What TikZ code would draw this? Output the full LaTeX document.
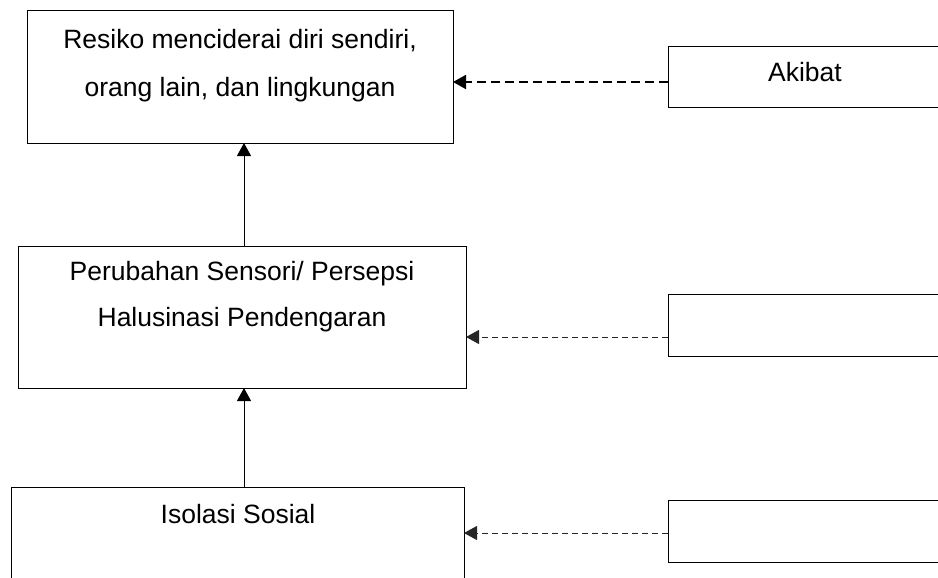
\documentclass[tikz,border=0pt]{standalone}
\usepackage{fontspec}
\setmainfont{Liberation Sans}
\usetikzlibrary{arrows.meta}
\begin{document}
\begin{tikzpicture}[x=1pt,y=-1pt,
  box/.style={draw, line width=1pt, inner sep=0pt, outer sep=0pt},
  lbl/.style={anchor=base, align=center, inner sep=0pt, font=\fontsize{26.5}{47}\selectfont},
  tip/.style={-{Triangle[length=13pt,width=14pt]}},
  solidarrow/.style={tip, line width=1pt},
  dasharrowA/.style={tip, line width=1.8pt, dash pattern=on 9pt off 5pt},
  dasharrowB/.style={tip, line width=1pt, black!85, dash pattern=on 6pt off 4pt}]
\useasboundingbox (0,0) rectangle (938,578);
\clip (0,0) rectangle (938,578);
% left boxes
\node[box, minimum width=426, minimum height=132] (b1) at (240,77) {};
\node[box, minimum width=448, minimum height=142] (b2) at (242,317) {};
\node[box, minimum width=453, minimum height=120] (b3) at (237.5,547) {};
% right boxes
\node[box, minimum width=274, minimum height=61] (r1) at (805,77.5) {};
\node[box, minimum width=274, minimum height=62] (r2) at (805,325) {};
\node[box, minimum width=274, minimum height=62] (r3) at (805,531) {};
% texts (anchor = baseline of the last line)
\node[lbl, font=\fontsize{26.5}{48.5}\selectfont] (t1) at (240,96.5) {Resiko menciderai diri sendiri,\\orang lain, dan lingkungan};
\node[lbl, font=\fontsize{26.5}{46}\selectfont] (t2) at (242,326) {Perubahan Sensori/ Persepsi\\Halusinasi Pendengaran};
\node[lbl] (t3) at (238,523) {Isolasi Sosial};
\node[lbl] (ta) at (805,81.5) {Akibat};
% helper coordinates
\coordinate (ax) at (244,0);
\coordinate (ya) at (0,82);
\coordinate (yb) at (0,337);
\coordinate (yc) at (0,533);
% connectors
\draw[solidarrow] (b2.north -| ax) -- (b1.south -| ax);
\draw[solidarrow] (b3.north -| ax) -- (b2.south -| ax);
\draw[dasharrowA] (r1.west |- ya) -- (b1.east |- ya);
\draw[dasharrowB] (r2.west |- yb) -- (b2.east |- yb);
\draw[dasharrowB] (r3.west |- yc) -- (b3.east |- yc);
\end{tikzpicture}
\end{document}
